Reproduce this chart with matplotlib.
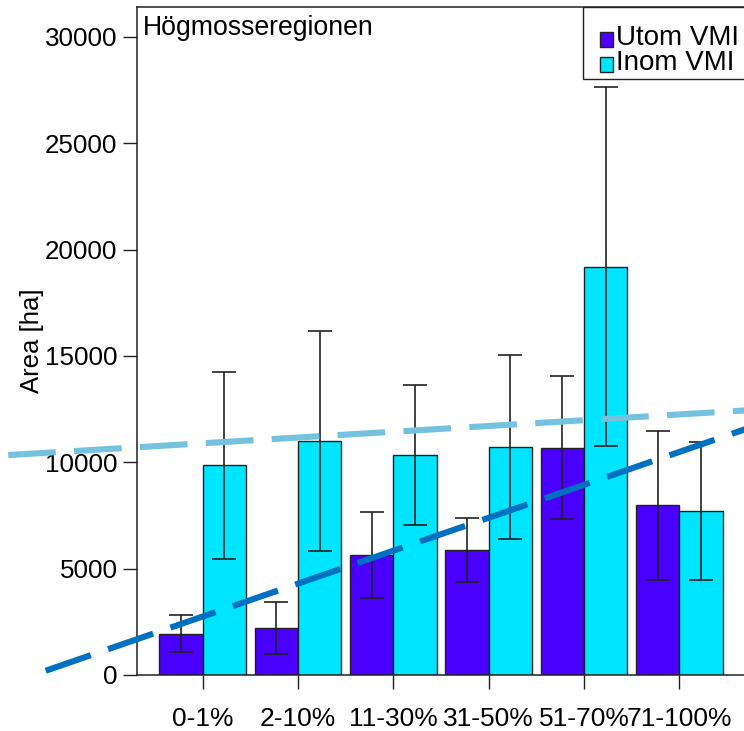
import matplotlib
matplotlib.use("Agg")
import matplotlib.pyplot as plt
from matplotlib.patches import Rectangle
import numpy as np

plt.rcParams['font.family'] = ['Liberation Sans', 'DejaVu Sans']

categories = ["0-1%", "2-10%", "11-30%", "31-50%", "51-70%", "71-100%"]
utom = [1950, 2220, 5650, 5870, 10690, 7970]
utom_err = [880, 1220, 2030, 1500, 3360, 3500]
inom = [9860, 11010, 10340, 10730, 19200, 7720]
inom_err = [4400, 5180, 3300, 4320, 8450, 3250]

# trend lines (endpoints, in category units)
trend_inom_x = [-2.04, 5.70]
trend_inom_y = [10340, 12440]
trend_utom_x = [-1.647, 5.70]
trend_utom_y = [200, 11570]

title = "Högmosseregionen"
ylabel = "Area [ha]"
legend_labels = ["Utom VMI", "Inom VMI"]

c_utom = "#4A00FF"
c_inom = "#00E5FF"
c_tr_inom = "#74C2DE"
c_tr_utom = "#0070C0"
edge = "#222222"

W, H = 744, 731
fig = plt.figure(figsize=(W/100, H/100), dpi=100)


def fx(px):
    return px / W


def fy(py):
    return (H - py) / H


ax = fig.add_axes([fx(137), fy(675), fx(745) - fx(137), fy(6.7) - fy(675)])

x = np.arange(len(categories))
w = 0.455
ax.bar(x - w/2, utom, width=w, color=c_utom, edgecolor=edge, linewidth=1.0, zorder=2)
ax.bar(x + w/2, inom, width=w, color=c_inom, edgecolor=edge, linewidth=1.0, zorder=2)
ax.errorbar(x - w/2, utom, yerr=utom_err, fmt="none", ecolor=edge, elinewidth=1.2,
            capsize=8.6, capthick=1.2, zorder=3)
ax.errorbar(x + w/2, inom, yerr=inom_err, fmt="none", ecolor=edge, elinewidth=1.2,
            capsize=8.6, capthick=1.2, zorder=3)

ax.plot(trend_inom_x, trend_inom_y, color=c_tr_inom, lw=4.4, dashes=(7.8, 3.0),
        clip_on=False, zorder=5)
ax.plot(trend_utom_x, trend_utom_y, color=c_tr_utom, lw=4.4, dashes=(7.8, 3.0),
        clip_on=False, zorder=5)

ax.set_xlim(-0.689, 5.689)
ax.set_ylim(0, 31420)
ax.set_yticks([0, 5000, 10000, 15000, 20000, 25000, 30000])
ax.set_xticks(x)
ax.set_xticklabels(categories)
ax.tick_params(axis="y", direction="out", length=10, width=1.0, pad=4, labelsize=18.7,
               colors=edge, labelcolor="black")
ax.tick_params(axis="x", direction="out", length=10, width=1.0, pad=13, labelsize=19,
               colors=edge, labelcolor="black")
for s in ["left", "bottom", "top"]:
    ax.spines[s].set_color(edge)
    ax.spines[s].set_linewidth(1.1)
ax.spines["right"].set_visible(False)

ax.set_ylabel(ylabel, fontsize=18.5, labelpad=1)

# title inside the plot
fig.text(fx(143), fy(35), title, fontsize=19.2, ha="left", va="baseline")

# legend box (drawn as figure artists)
fig.patches.append(Rectangle((fx(583), fy(79)), fx(746) - fx(583), fy(7) - fy(79),
                             transform=fig.transFigure, facecolor="white",
                             edgecolor=edge, linewidth=1.0, zorder=10))
for i, (lab, col) in enumerate(zip(legend_labels, [c_utom, c_inom])):
    top = 32.5 + 25 * i
    fig.patches.append(Rectangle((fx(600), fy(top + 14)), fx(613) - fx(600), fy(top) - fy(top + 14),
                                 transform=fig.transFigure, facecolor=col,
                                 edgecolor=edge, linewidth=1.0, zorder=11))
    fig.text(fx(616), fy(45 + 25 * i), lab, fontsize=20, ha="left", va="baseline", zorder=12)

fig.savefig("out.png", dpi=100)
